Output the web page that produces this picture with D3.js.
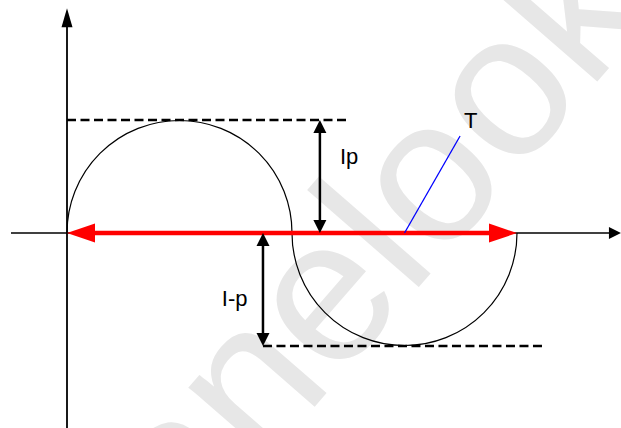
<!DOCTYPE html>
<html>
<head>
<meta charset="utf-8">
<script src="https://cdn.jsdelivr.net/npm/d3@7"></script>
<style>
  html, body { margin: 0; padding: 0; background: #fff; }
  svg { display: block; }
  text { font-family: Arial, "Liberation Sans", sans-serif; }
</style>
</head>
<body>
<svg id="chart" width="621" height="428"></svg>
<script>
// ---- data (chart units: half period = 1, peak current = 1) ----
const halfWaveCenters = [0.5, 1.5];
const halfWaveSigns = [1, -1];
const peakLevels = [1, -1];
const periodSpan = [0, 2];
const labelTexts = ["Ip", "I-p", "T"];
const watermarkText = "panelook";

// ---- layout ----
const W = 621, H = 428;
const svg = d3.select("#chart");
const x = d3.scaleLinear().domain([0, 2]).range([67, 517]);
const y = d3.scaleLinear().domain([-1, 1]).range([346, 120]);
const line = d3.line();

// watermark (behind everything)
svg.append("text")
  .attr("transform", "translate(112,640) rotate(-49)")
  .attr("font-family", "Arial, 'Liberation Sans', sans-serif")
  .attr("font-size", 204)
  .attr("fill", "#e7e7e7")
  .text(watermarkText);

// axes
const xAxisMin = -0.249, xAxisMax = 2.462;
const yAxisMin = -1.726, yAxisMax = 1.99;
svg.append("line")
  .attr("x1", x(0)).attr("x2", x(0))
  .attr("y1", y(yAxisMin)).attr("y2", y(yAxisMax) + 12)
  .attr("stroke", "#000").attr("stroke-width", 1.8);
svg.append("path")
  .attr("d", line([[x(0), y(yAxisMax)], [x(0) - 5.5, y(yAxisMax) + 19], [x(0) + 5.5, y(yAxisMax) + 19]]) + "Z")
  .attr("fill", "#000");
svg.append("line")
  .attr("x1", x(xAxisMin)).attr("x2", x(xAxisMax) - 8)
  .attr("y1", y(0)).attr("y2", y(0))
  .attr("stroke", "#000").attr("stroke-width", 1.6);
svg.append("path")
  .attr("d", line([[x(xAxisMax), y(0)], [x(xAxisMax) - 12, y(0) - 6], [x(xAxisMax) - 12, y(0) + 6]]) + "Z")
  .attr("fill", "#000");

// half waves (semicircles)
const r = x(1) - x(0.5);
svg.selectAll("path.wave").data(halfWaveCenters).join("path")
  .attr("class", "wave")
  .attr("d", (c, i) => {
    const p = d3.path();
    p.moveTo(x(c - 0.5), y(0));
    p.arc(x(c), y(0), r, Math.PI, 0, halfWaveSigns[i] < 0);
    return p.toString();
  })
  .attr("fill", "none").attr("stroke", "#000").attr("stroke-width", 1.2);

// dashed peak levels
const dashSpans = [[0, 1.249], [0.871, 2.129]];
svg.selectAll("line.level").data(peakLevels).join("line")
  .attr("class", "level")
  .attr("x1", (d, i) => x(dashSpans[i][0]))
  .attr("x2", (d, i) => x(dashSpans[i][1]))
  .attr("y1", d => y(d)).attr("y2", d => y(d))
  .attr("stroke", "#000").attr("stroke-width", 2.4)
  .attr("stroke-dasharray", "9,4.5");

// red period arrow
const hl = 28, hw = 9.5;
svg.append("line")
  .attr("x1", x(periodSpan[0]) + hl - 2).attr("x2", x(periodSpan[1]) - hl + 2)
  .attr("y1", y(0)).attr("y2", y(0))
  .attr("stroke", "#ff0000").attr("stroke-width", 4.5);
svg.append("path")
  .attr("d", line([[x(periodSpan[0]), y(0)], [x(periodSpan[0]) + hl, y(0) - hw], [x(periodSpan[0]) + hl, y(0) + hw]]) + "Z")
  .attr("fill", "#ff0000");
svg.append("path")
  .attr("d", line([[x(periodSpan[1]), y(0)], [x(periodSpan[1]) - hl, y(0) - hw], [x(periodSpan[1]) - hl, y(0) + hw]]) + "Z")
  .attr("fill", "#ff0000");

// amplitude double arrows
const ampArrowX = [1.124, 0.871];
const ah = 13, aw = 6.5;
peakLevels.forEach((lv, i) => {
  const ax = x(ampArrowX[i]);
  const y0 = y(0), y1 = y(lv);
  const dir = y1 < y0 ? -1 : 1;
  svg.append("line")
    .attr("x1", ax).attr("x2", ax)
    .attr("y1", y0 + dir * (ah - 2)).attr("y2", y1 - dir * (ah - 2))
    .attr("stroke", "#000").attr("stroke-width", 2.5);
  svg.append("path")
    .attr("d", line([[ax, y1], [ax - aw, y1 - dir * ah], [ax + aw, y1 - dir * ah]]) + "Z")
    .attr("fill", "#000");
  svg.append("path")
    .attr("d", line([[ax, y0], [ax - aw, y0 + dir * ah], [ax + aw, y0 + dir * ah]]) + "Z")
    .attr("fill", "#000");
});

// blue pointer to T
svg.append("line")
  .attr("x1", x(1.5)).attr("y1", y(0))
  .attr("x2", x(1.747)).attr("y2", y(0.858))
  .attr("stroke", "#0000ff").attr("stroke-width", 1.3);

// labels
const labelPos = [[1.213, 0.611], [0.688, -0.646], [1.764, 0.929]];
svg.selectAll("text.lbl").data(labelTexts).join("text")
  .attr("class", "lbl")
  .attr("x", (d, i) => x(labelPos[i][0]))
  .attr("y", (d, i) => y(labelPos[i][1]))
  .attr("font-size", 22)
  .attr("fill", "#000")
  .text(d => d);
</script>
</body>
</html>
